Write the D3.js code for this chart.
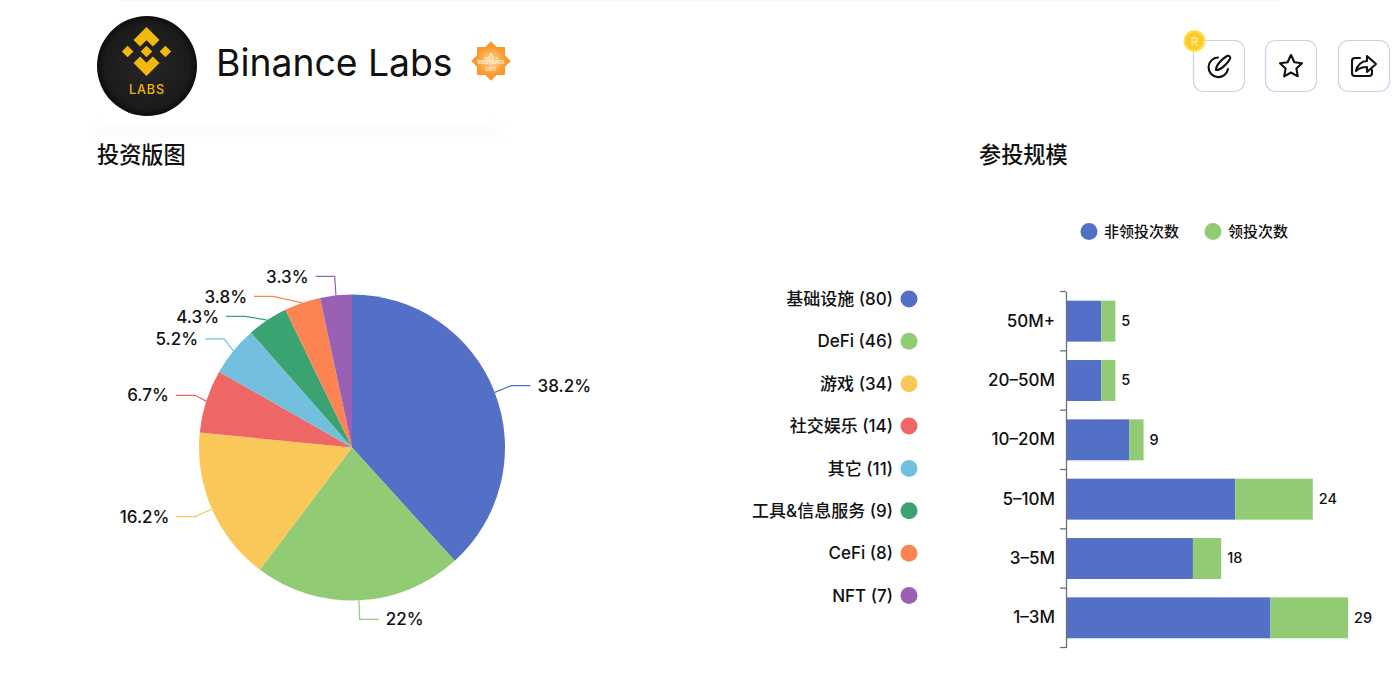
<!DOCTYPE html>
<html><head><meta charset="utf-8">
<script src="https://cdnjs.cloudflare.com/ajax/libs/d3/7.8.5/d3.min.js"></script>
<style>
html,body{margin:0;padding:0;background:#fff;overflow:hidden}
svg{display:block}
text{font-family:Inter,"Noto Sans CJK SC",sans-serif;fill:#111;font-weight:500}
.cjk{font-family:"Noto Sans CJK SC",sans-serif}
</style></head><body>
<svg id="c" width="1400" height="681"></svg>
<script>
// ---- data ----
const sectors = ["基础设施","DeFi","游戏","社交娱乐","其它","工具&信息服务","CeFi","NFT"];
const sectorCounts = [80,46,34,14,11,9,8,7];
const sectorPct = ["38.2%","22%","16.2%","6.7%","5.2%","4.3%","3.8%","3.3%"];
const sectorColors = ["#5470c6","#91cc75","#fac858","#ee6666","#73c0de","#3ba272","#fc8452","#9a60b4"];
const sizes = ["50M+","20–50M","10–20M","5–10M","3–5M","1–3M"];
const nonLead = [5,5,9,24,18,29];
const lead = [2,2,2,11,4,11];
const seriesNames = ["非领投次数","领投次数"];
const seriesColors = ["#5470c6","#91cc75"];
const titleText = "Binance Labs";
const headings = ["投资版图","参投规模"];

const svg = d3.select("#c");
const defs = svg.append("defs");
const lg = defs.append("radialGradient").attr("id","logoG");
lg.append("stop").attr("offset","0%").attr("stop-color","#262626");
lg.append("stop").attr("offset","85%").attr("stop-color","#1b1b1b");
lg.append("stop").attr("offset","100%").attr("stop-color","#0d0d0d");
const bg = defs.append("radialGradient").attr("id","badgeG");
bg.append("stop").attr("offset","0%").attr("stop-color","#ffd9a0");
bg.append("stop").attr("offset","100%").attr("stop-color","#fb9a2c");
const cg = defs.append("filter").attr("id","soft").attr("x","-5%").attr("y","-300%").attr("width","110%").attr("height","700%");
cg.append("feGaussianBlur").attr("stdDeviation","4");

// ---- header ----
svg.append("rect").attr("x",120).attr("y",0).attr("width",1160).attr("height",1).attr("fill","#f7f7f7");
svg.append("rect").attr("x",97).attr("y",129).attr("width",400).attr("height",5).attr("fill","#f7f7f7").attr("filter","url(#soft)");

const logo = svg.append("g").attr("transform","translate(147,66)");
logo.append("circle").attr("r",50).attr("fill","url(#logoG)");
const mark = logo.append("g").attr("transform","translate(-0.5,-14.5) scale(24.5)").attr("fill","#f0b90b");
const chev = [[0,-1],[.53,-.47],[.26,-.2],[0,-.46],[-.26,-.2],[-.53,-.47]];
const line = d3.line();
mark.append("path").attr("d",line(chev)+"Z");
mark.append("path").attr("d",line(chev.map(p=>[p[0],-p[1]]))+"Z");
[[0,0],[-.77,0],[.77,0]].forEach(c=>{
  mark.append("path").attr("d",line([[c[0],c[1]-.235],[c[0]+.235,c[1]],[c[0],c[1]+.235],[c[0]-.235,c[1]]])+"Z");
});
logo.append("text").attr("y",28).attr("text-anchor","middle").attr("font-size",12.5).attr("letter-spacing",1).style("fill","#f0b90b").text("LABS");

svg.append("text").attr("x",216).attr("y",76).attr("font-size",37.3).style("font-weight",400).text(titleText);

const badge = svg.append("g").attr("transform","translate(491,61)");
[0,45].forEach(a=>badge.append("rect").attr("x",-14).attr("y",-14).attr("width",28).attr("height",28)
  .attr("transform",`rotate(${a})`).attr("fill","url(#badgeG)"));
badge.append("text").attr("y",3).attr("text-anchor","middle").attr("font-size",5).style("fill","#fff").text("ROOTDATA");
badge.append("text").attr("y",10).attr("text-anchor","middle").attr("font-size",5).style("fill","#fff").text("LIST");
badge.append("path").attr("d","M-7,-3H-2L0,-8L2,-3H3M5,-3H7").attr("fill","none").attr("stroke","#fff").attr("stroke-width",1);

[1193,1265,1338].forEach(x=>svg.append("rect").attr("x",x+.5).attr("y",40.5).attr("width",51).attr("height",51).attr("rx",10)
  .attr("fill","#fff").attr("stroke","#c6d2e6").attr("stroke-width",1.2));
const ic = {fill:"none",stroke:"#111","stroke-width":2.1,"stroke-linecap":"round","stroke-linejoin":"round"};
const icon = d => { const p = svg.append("path").attr("d",d); Object.entries(ic).forEach(([k,v])=>p.attr(k,v)); };
icon("M1218,57.5A9.8,9.8 0 1 0 1228,69M1216,70C1216,65 1222,59 1227,56C1229,55 1231,57 1230,59C1227,64 1221,70 1216,70Z");
icon("M1291,55L1294.4,62.3L1302,63.3L1296.4,68.6L1297.8,76.3L1291,72.5L1284.2,76.3L1285.6,68.6L1280,63.3L1287.6,62.3Z");
icon("M1360,58H1355C1353,58 1352,59 1352,61V73C1352,75 1353,76 1355,76H1369C1371,76 1372,75 1372,73V70M1356,71C1357,65 1362,61 1367,61V56L1376,64L1367,72V67C1362,67 1359,68 1356,71Z");
svg.append("circle").attr("cx",1194.5).attr("cy",41).attr("r",10).attr("fill","#fdc92f").attr("stroke","#ffe24a").attr("stroke-width",2);
svg.append("text").attr("x",1194.5).attr("y",46).attr("text-anchor","middle").attr("font-size",12).style("font-weight",700).style("fill","#ffe680").text("R");

svg.selectAll("text.h").data(headings).join("text").attr("class","h cjk")
  .attr("x",(d,i)=>[97,979][i]).attr("y",163).attr("font-size",22.2).text(d=>d);

// ---- pie ----
const cx = 352, cy = 447.5, R = 153, ry = 172, hLen = 19;
const arcs = d3.pie().sort(null).startAngle(0).endAngle(2*Math.PI)(sectorCounts);
const arc = d3.arc().innerRadius(0).outerRadius(R);
const pie = svg.append("g").attr("transform",`translate(${cx},${cy})`);
pie.selectAll("path.s").data(arcs).join("path").attr("class","s").attr("d",arc)
  .attr("fill",(d,i)=>sectorColors[i]);
// label placement: natural position on an outer ellipse, then pushed apart on the upper-left side
const labels = arcs.map((d,i)=>{
  const a = (d.startAngle+d.endAngle)/2;
  return {i,a,y:-ry*Math.cos(a),left:Math.sin(a)<0};
});
const crowded = labels.filter(l=>l.left && l.y<0).sort((p,q)=>p.y-q.y);
crowded.forEach((l,k)=>{ if(k && l.y < crowded[k-1].y+20) l.y = crowded[k-1].y+20; });
labels.forEach(l=>{
  const dir = l.left?-1:1;
  const rx = (l.left && l.y<0) ? 165 : 171;
  const ex = dir*rx*Math.sqrt(Math.max(0,1-l.y*l.y/(ry*ry)));
  const p0 = [R*Math.sin(l.a),-R*Math.cos(l.a)];
  pie.append("path").attr("d",d3.line()([p0,[ex,l.y],[ex+dir*hLen,l.y]]))
    .attr("fill","none").attr("stroke",sectorColors[l.i]).attr("stroke-width",1.2);
  pie.append("text").attr("x",ex+dir*(hLen+7)).attr("y",l.y).attr("dy","0.36em")
    .attr("text-anchor",l.left?"end":"start").attr("font-size",17).text(sectorPct[l.i]);
});

// ---- sector legend ----
const ly = d3.scalePoint().domain(sectors).range([299,595.5]);
const leg = svg.append("g");
leg.selectAll("circle").data(sectors).join("circle").attr("cx",909).attr("cy",d=>ly(d)).attr("r",8.5)
  .attr("fill",(d,i)=>sectorColors[i]);
leg.selectAll("text").data(sectors).join("text").attr("x",893).attr("y",d=>ly(d)).attr("dy","0.36em")
  .attr("text-anchor","end").attr("font-size",17).text((d,i)=>`${d} (${sectorCounts[i]})`);

// ---- bars ----
const x = d3.scaleLinear().domain([0,29]).range([1066,1270.5]);
const y = d3.scaleBand().domain(sizes).range([291.5,647.5]).paddingInner(.31).paddingOuter(.155);
const stack = d3.stack().keys([0,1]).value((i,k)=>[nonLead,lead][k][i])(d3.range(sizes.length));
svg.selectAll("g.ser").data(stack).join("g").attr("class","ser").attr("fill",(d,i)=>seriesColors[i])
  .selectAll("rect").data(d=>d).join("rect")
  .attr("x",d=>x(d[0])).attr("width",d=>x(d[1])-x(d[0]))
  .attr("y",(d,i)=>y(sizes[i])).attr("height",y.bandwidth());
svg.selectAll("text.v").data(sizes).join("text").attr("class","v")
  .attr("x",(d,i)=>x(nonLead[i]+lead[i])+6).attr("y",d=>y(d)+y.bandwidth()/2-0.5).attr("dy","0.36em")
  .attr("font-size",14.5).text((d,i)=>nonLead[i]);
const ax = svg.append("g").attr("transform","translate(1066,0)")
  .call(d3.axisLeft(y).tickSize(0).tickPadding(11));
ax.select(".domain").attr("stroke","#6e7079").attr("stroke-width",1.3);
ax.selectAll("text").attr("font-size",17).style("font-family",'Inter,"Noto Sans CJK SC",sans-serif');
const step = (648-292)/sizes.length;
ax.selectAll("line.b").data(d3.range(sizes.length+1)).join("line").attr("class","b")
  .attr("x1",-6).attr("x2",0).attr("y1",i=>291.5+i*step).attr("y2",i=>291.5+i*step)
  .attr("stroke","#6e7079").attr("stroke-width",1.3);

// ---- series legend ----
const sl = svg.append("g");
sl.selectAll("circle").data(seriesNames).join("circle").attr("cx",(d,i)=>[1089,1213][i]).attr("cy",231.5).attr("r",8.5)
  .attr("fill",(d,i)=>seriesColors[i]);
sl.selectAll("text").data(seriesNames).join("text").attr("class","cjk").attr("x",(d,i)=>[1104,1228][i]).attr("y",231.5).attr("dy","0.36em")
  .attr("font-size",15).text(d=>d);
</script>
</body></html>
